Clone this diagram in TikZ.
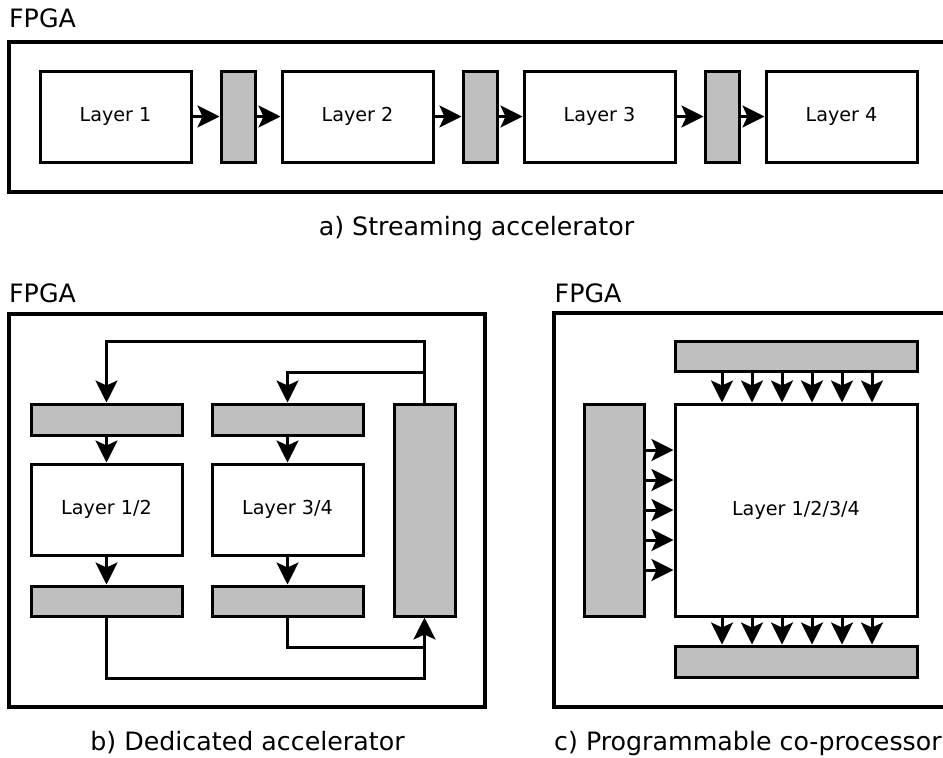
\documentclass[tikz,border=0pt]{standalone}
\usepackage{fontspec}
\setmainfont{DejaVu Sans}
\usetikzlibrary{arrows.meta}
\definecolor{buffill}{RGB}{191,191,191}
\begin{document}
\begin{tikzpicture}[x=1pt,y=-1pt,
  box/.style={draw, line width=3pt, fill=white, inner sep=0pt, font=\fontsize{19.2}{23}\selectfont},
  buf/.style={draw, line width=3pt, fill=buffill, inner sep=0pt},
  frame/.style={draw, line width=3.3pt, inner sep=0pt},
  arr/.style={line width=3pt, -{Stealth[length=22pt,width=22pt,inset=5pt]}},
  wire/.style={line width=3pt},
  lbl/.style={inner sep=0pt, font=\fontsize{25.3}{30}\selectfont},
]
\useasboundingbox (0,0) rectangle (943,758);
\clip (0,0) rectangle (943,758);

% ---------- a) streaming accelerator ----------
\node[lbl, anchor=base west] (fpgaa) at (9,27) {FPGA};
\node[frame, minimum width=943pt, minimum height=150pt] (fa) at (480.5,117) {};
\node[box, minimum width=151pt, minimum height=91pt] (l1) at (115.5,116.5) {Layer 1};
\node[buf, minimum width=34pt, minimum height=91pt] (q1) at (238,116.5) {};
\node[box, minimum width=151pt, minimum height=91pt] (l2) at (357.5,116.5) {Layer 2};
\node[buf, minimum width=34pt, minimum height=91pt] (q2) at (480,116.5) {};
\node[box, minimum width=151pt, minimum height=91pt] (l3) at (599.5,116.5) {Layer 3};
\node[buf, minimum width=34pt, minimum height=91pt] (q3) at (722,116.5) {};
\node[box, minimum width=151pt, minimum height=91pt] (l4) at (841.5,116.5) {Layer 4};
\draw[arr] (l1) -- (q1);
\draw[arr] (q1) -- (l2);
\draw[arr] (l2) -- (q2);
\draw[arr] (q2) -- (l3);
\draw[arr] (l3) -- (q3);
\draw[arr] (q3) -- (l4);
\node[lbl, anchor=base] (capa) at (476.5,235) {a) Streaming accelerator};

% ---------- b) dedicated accelerator ----------
\node[lbl, anchor=base west] (fpgab) at (9,302) {FPGA};
\node[frame, minimum width=476pt, minimum height=393pt] (fb) at (247,510.5) {};
\node[buf, minimum width=151pt, minimum height=31pt] (tl) at (106.5,419.5) {};
\node[buf, minimum width=151pt, minimum height=31pt] (tm) at (287.5,419.5) {};
\node[box, minimum width=151pt, minimum height=91pt] (l12) at (106.5,509.5) {Layer 1/2};
\node[box, minimum width=151pt, minimum height=91pt] (l34) at (287.5,509.5) {Layer 3/4};
\node[buf, minimum width=151pt, minimum height=30pt] (bl) at (106.5,601) {};
\node[buf, minimum width=151pt, minimum height=30pt] (bm) at (287.5,601) {};
\node[buf, minimum width=61pt, minimum height=212pt] (tall) at (424.5,510) {};
\draw[arr] (tl) -- (l12);
\draw[arr] (l12) -- (bl);
\draw[arr] (tm) -- (l34);
\draw[arr] (l34) -- (bm);
\draw[arr] (tall.north) -- ++(0,-61) -| (tl.north);
\draw[arr] ([yshift=30pt]tall.north) -| (tm.north);
\draw[arr] (bl.south) -- ++(0,61) -| (tall.south);
\draw[wire] (bm.south) |- ([yshift=-30pt]tall.south);
\node[lbl, anchor=base] (capb) at (247.5,750) {b) Dedicated accelerator};

% ---------- c) programmable co-processor ----------
\node[lbl, anchor=base west] (fpgac) at (554.5,302) {FPGA};
\node[frame, minimum width=401pt, minimum height=394pt] (fc) at (754.5,510) {};
\node[buf, minimum width=242pt, minimum height=30pt] (topg) at (796,356) {};
\node[box, minimum width=242pt, minimum height=212pt] (big) at (796,510) {Layer 1/2/3/4};
\node[buf, minimum width=60pt, minimum height=212pt] (lg) at (614,510) {};
\node[buf, minimum width=242pt, minimum height=31pt] (botg) at (796,661.5) {};
\foreach \dx in {48.5,78.5,108.5,138.5,168.5,198.5}{
  \draw[arr] ([xshift=\dx pt]topg.south west) -- ([xshift=\dx pt]big.north west);
  \draw[arr] ([xshift=\dx pt]big.south west) -- ([xshift=\dx pt]botg.north west);
}
\foreach \dy in {-60,-30,0,30,60}{
  \draw[arr] ([yshift=\dy pt]lg.east) -- ([yshift=\dy pt]big.west);
}
\node[lbl, anchor=base west] (capc) at (554,750) {c) Programmable co-processor};
\end{tikzpicture}
\end{document}
